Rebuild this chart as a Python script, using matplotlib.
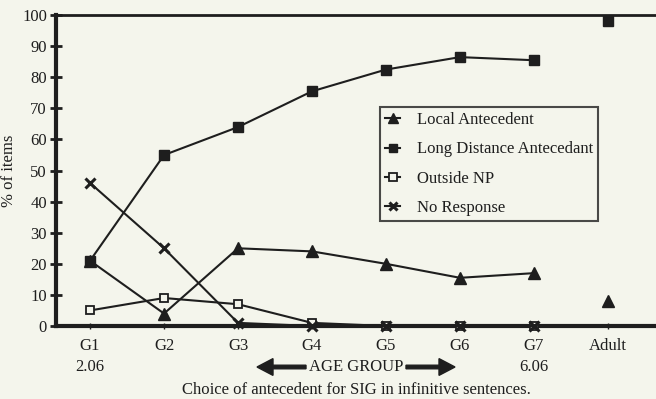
import matplotlib
matplotlib.use("Agg")
import matplotlib.pyplot as plt
import numpy as np

groups = ["G1", "G2", "G3", "G4", "G5", "G6", "G7", "Adult"]
local_ante = [21, 4, 25, 24, 20, 15.5, 17]
local_adult = 8
long_dist = [21, 55, 64, 75.5, 82.5, 86.5, 85.5]
long_adult = 98
outside_np = [5, 9, 7, 1, 0, 0, 0]
no_response = [46, 25, 1, 0, 0, 0, 0]
yticks = [0, 10, 20, 30, 40, 50, 60, 70, 80, 90, 100]

bg = "#f4f5ec"
ink = "#1e1e1e"
fs = 12
plt.rcParams["font.family"] = ["Liberation Serif", "DejaVu Serif"]

fig = plt.figure(figsize=(6.56, 3.99), dpi=100, facecolor=bg)
ax = fig.add_axes([0.0854, 0.183, 0.9146, 0.779])
ax.set_facecolor(bg)

x = np.arange(1, 8)
kw = dict(color=ink, lw=1.5, clip_on=False, zorder=3)
l1, = ax.plot(x, local_ante, marker="^", ms=9, **kw)
ax.plot([8], [local_adult], marker="^", ms=9, ls="none", color=ink, clip_on=False)
l2, = ax.plot(x, long_dist, marker="s", ms=6.5, **kw)
ax.plot([8], [long_adult], marker="s", ms=6.5, ls="none", color=ink, clip_on=False)
l3, = ax.plot(x, outside_np, marker="s", ms=6, mfc=bg, mec=ink, mew=1.3, **kw)
l4, = ax.plot(x, no_response, marker="x", ms=7, mew=2.2, **kw)

ax.set_xlim(0.54, 8.65)
ax.set_ylim(0, 100)
ax.set_xticks(range(1, 9))
ax.set_xticklabels(groups, fontsize=fs)
ax.set_yticks(yticks)
ax.set_yticklabels([str(v) for v in yticks], fontsize=fs)
ax.tick_params(axis="y", direction="inout", length=9, width=2, color=ink, pad=2, labelcolor=ink)
ax.tick_params(axis="x", direction="inout", length=5, width=1, color=ink, pad=6, labelcolor=ink)

for s in ["left", "bottom"]:
    ax.spines[s].set_linewidth(3)
    ax.spines[s].set_color(ink)
ax.spines["top"].set_linewidth(2)
ax.spines["top"].set_color(ink)
ax.spines["right"].set_visible(False)

ax.set_ylabel("% of items", fontsize=fs, color=ink, labelpad=4)

leg = ax.legend([l1, l2, l3, l4],
                ["Local Antecedent", "Long Distance Antecedant", "Outside NP", "No Response"],
                loc="upper left", bbox_to_anchor=(0.54, 0.704), fontsize=fs,
                frameon=True, fancybox=False, edgecolor=ink, facecolor=bg,
                handlelength=0.9, handletextpad=1.0, labelspacing=0.8,
                borderpad=0.3, borderaxespad=0, markerscale=0.85)
leg.get_frame().set_linewidth(1.5)
for t in leg.get_texts():
    t.set_color(ink)

yrow = 1 - 367/399
fig.text(90/656, yrow, "2.06", ha="center", va="center", fontsize=fs, color=ink)
fig.text(534/656, yrow, "6.06", ha="center", va="center", fontsize=fs, color=ink)
fig.text(356/656, yrow, "AGE GROUP", ha="center", va="center", fontsize=fs, color=ink)
fig.text(356/656, 1 - 390/399, "Choice of antecedent for SIG in infinitive sentences.",
         ha="center", va="center", fontsize=fs, color=ink)

fig.patches.append(matplotlib.patches.FancyArrow(
    306/656, yrow, -49/656, 0, width=0.009, head_width=0.042, head_length=16/656,
    length_includes_head=True, color=ink, transform=fig.transFigure))
fig.patches.append(matplotlib.patches.FancyArrow(
    406/656, yrow, 49/656, 0, width=0.009, head_width=0.042, head_length=16/656,
    length_includes_head=True, color=ink, transform=fig.transFigure))

fig.savefig("out.png", dpi=100, facecolor=bg)
